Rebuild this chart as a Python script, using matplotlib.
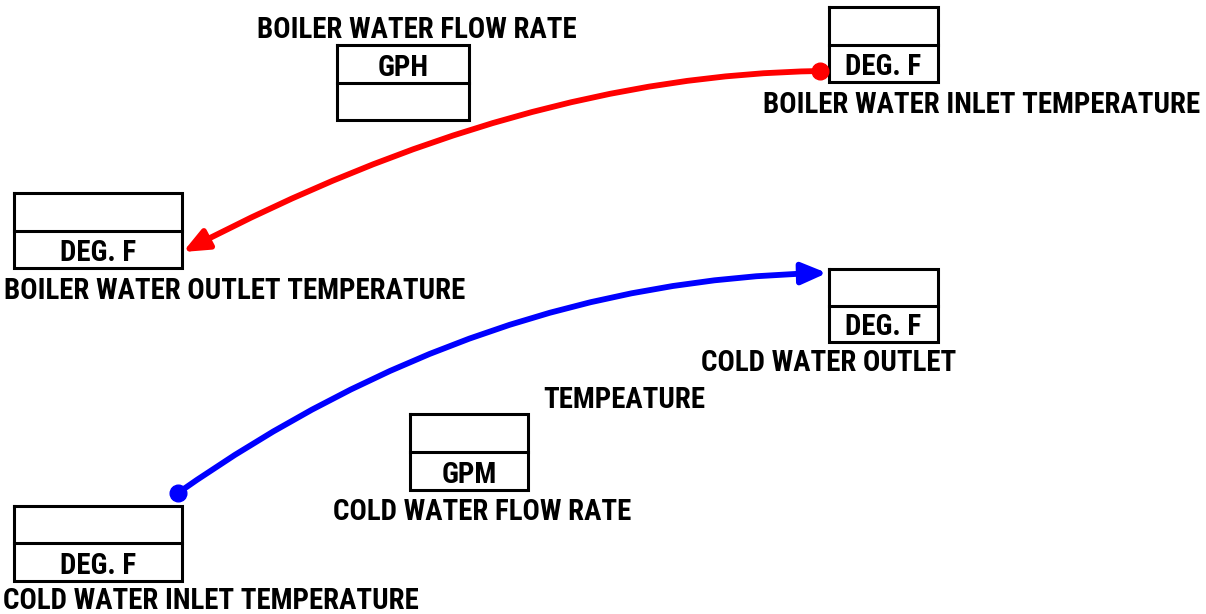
import matplotlib
matplotlib.use("Agg")
import matplotlib.pyplot as plt
from matplotlib import font_manager
from matplotlib.path import Path
from matplotlib.patches import FancyArrowPatch

# ---- data (pixel-space layout of the schematic) ----
box_names = ["boiler_flow", "boiler_in", "boiler_out", "cold_flow", "cold_in", "cold_out"]
box_x0 = [337, 829, 14, 410, 14, 829]
box_x1 = [469, 938, 182, 528, 182, 938]
box_top = [45, 7, 193, 414, 506, 269]
box_mid = [83, 45, 231, 452, 543, 306]
box_bot = [120, 82, 268, 490, 581, 342]
unit_text = ["GPH", "DEG. F", "DEG. F", "GPM", "DEG. F", "DEG. F"]
unit_row = ["top", "bottom", "bottom", "bottom", "bottom", "bottom"]

label_text = ["BOILER WATER FLOW RATE", "BOILER WATER INLET TEMPERATURE",
              "BOILER WATER OUTLET TEMPERATURE", "COLD WATER OUTLET", "TEMPEATURE",
              "COLD WATER FLOW RATE", "COLD WATER INLET TEMPERATURE"]
label_x = [417, 982, 235, 829, 624, 482, 211]
label_base = [38, 113, 299, 371, 408, 520, 609]

flow_colors = ["#ff0000", "#0000ff"]
flow_start = [(820, 71), (178, 493)]
flow_ctrl = [(520, 75), (480, 280)]
flow_end = [(183, 252), (827, 273)]

# ---- font ----
names = {f.name for f in font_manager.fontManager.ttflist}
if "Roboto Condensed" in names:
    plt.rcParams["font.family"] = ["Roboto Condensed", "DejaVu Sans"]
    fs = 20.8
else:
    plt.rcParams["font.family"] = ["DejaVu Sans"]
    fs = 17

W, H = 1206, 614
fig = plt.figure(figsize=(W / 100, H / 100), dpi=100)
ax = fig.add_axes([0, 0, 1, 1])
ax.set_xlim(0, W)
ax.set_ylim(H, 0)
ax.axis("off")

for x0, x1, t, m, b, ut, ur in zip(box_x0, box_x1, box_top, box_mid, box_bot, unit_text, unit_row):
    ax.plot([x0, x1, x1, x0, x0], [t, t, b, b, t], color="black", lw=2.2, solid_joinstyle="miter")
    ax.plot([x0, x1], [m, m], color="black", lw=2.2)
    yb = (m - 7) if ur == "top" else (b - 7)
    ax.text((x0 + x1) / 2, yb, ut, ha="center", va="baseline", fontsize=fs, fontweight="bold")

for s, x, yb in zip(label_text, label_x, label_base):
    ax.text(x, yb, s, ha="center", va="baseline", fontsize=fs, fontweight="bold")

for c, p0, pc, p2 in zip(flow_colors, flow_start, flow_ctrl, flow_end):
    path = Path([p0, pc, p2], [Path.MOVETO, Path.CURVE3, Path.CURVE3])
    arr = FancyArrowPatch(path=path, arrowstyle="-|>,head_length=0.75,head_width=0.32",
                          mutation_scale=20, color=c, lw=4.2, transform=ax.transData)
    ax.add_patch(arr)
    ax.plot([p0[0]], [p0[1]], "o", color=c, markersize=12, zorder=5)

fig.savefig("out.png", dpi=100)
